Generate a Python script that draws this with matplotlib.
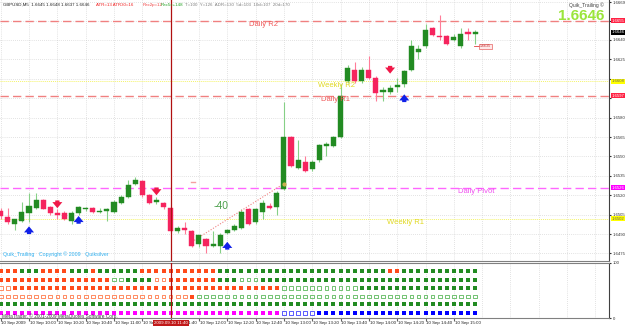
import numpy as np
import matplotlib.pyplot as plt
import matplotlib.transforms as mtransforms

plt.rcParams['font.family'] = ['Liberation Sans', 'DejaVu Sans']

# GBPUSD M5, 2009.09.10 09:40 - 15:15
opens = [1.6508, 1.6503, 1.6498, 1.6500, 1.6506, 1.6510, 1.6516, 1.6511, 1.6506, 1.6506,
         1.6500, 1.6506, 1.6509, 1.6510, 1.6507, 1.6508, 1.6507, 1.6514, 1.6519, 1.6529,
         1.6531, 1.6520, 1.6515, 1.6514, 1.6510, 1.6492, 1.6495, 1.6492, 1.6482, 1.6486,
         1.6481, 1.6481, 1.6491, 1.6493, 1.6495, 1.6509, 1.6499, 1.6507, 1.6512, 1.6511,
         1.6525, 1.6565, 1.6541, 1.6546, 1.6540, 1.6547, 1.6558, 1.6558, 1.6565, 1.6608,
         1.6617, 1.6608, 1.6617, 1.6611, 1.6600, 1.6600, 1.6604, 1.6606, 1.6617, 1.6631,
         1.6635, 1.6649, 1.6643, 1.6643, 1.6640, 1.6635, 1.6646, 1.6645]
highs = [1.6510, 1.6510, 1.6502, 1.6515, 1.6522, 1.6522, 1.6517, 1.6512, 1.6509, 1.6508,
         1.6508, 1.6512, 1.6511, 1.6511, 1.6510, 1.6510, 1.6516, 1.6520, 1.6532, 1.6534,
         1.6532, 1.6521, 1.6519, 1.6515, 1.6511, 1.6496, 1.6499, 1.6493, 1.6489, 1.6487,
         1.6492, 1.6491, 1.6494, 1.6498, 1.6509, 1.6510, 1.6510, 1.6516, 1.6514, 1.6523,
         1.6592, 1.6566, 1.6563, 1.6550, 1.6547, 1.6560, 1.6561, 1.6566, 1.6606, 1.6621,
         1.6623, 1.6619, 1.6628, 1.6612, 1.6604, 1.6605, 1.6611, 1.6617, 1.6640, 1.6636,
         1.6652, 1.6650, 1.6659, 1.6644, 1.6645, 1.6649, 1.6649, 1.6648]
lows = [1.6502, 1.6498, 1.6493, 1.6499, 1.6499, 1.6509, 1.6509, 1.6505, 1.6502, 1.6501,
        1.6498, 1.6505, 1.6508, 1.6506, 1.6506, 1.6500, 1.6506, 1.6513, 1.6518, 1.6528,
        1.6519, 1.6513, 1.6513, 1.6509, 1.6491, 1.6491, 1.6490, 1.6480, 1.6480, 1.6475,
        1.6480, 1.6475, 1.6490, 1.6492, 1.6494, 1.6497, 1.6498, 1.6502, 1.6509, 1.6505,
        1.6524, 1.6542, 1.6540, 1.6538, 1.6539, 1.6546, 1.6550, 1.6557, 1.6564, 1.6607,
        1.6607, 1.6607, 1.6610, 1.6593, 1.6593, 1.6598, 1.6600, 1.6604, 1.6616, 1.6625,
        1.6634, 1.6643, 1.6640, 1.6636, 1.6639, 1.6634, 1.6640, 1.6637]
closes = [1.6504, 1.6499, 1.6502, 1.6507, 1.6512, 1.6516, 1.6509, 1.6506, 1.6505, 1.6502,
          1.6506, 1.6511, 1.6510, 1.6507, 1.6508, 1.6509, 1.6515, 1.6519, 1.6528, 1.6532,
          1.6520, 1.6514, 1.6516, 1.6511, 1.6492, 1.6495, 1.6493, 1.6481, 1.6489, 1.6481,
          1.6482, 1.6489, 1.6493, 1.6496, 1.6507, 1.6498, 1.6509, 1.6514, 1.6510, 1.6522,
          1.6565, 1.6543, 1.6547, 1.6539, 1.6546, 1.6559, 1.6560, 1.6565, 1.6597, 1.6618,
          1.6608, 1.6617, 1.6611, 1.6599, 1.6601, 1.6603, 1.6605, 1.6616, 1.6635, 1.6633,
          1.6648, 1.6644, 1.6642, 1.6637, 1.6642, 1.6645, 1.6645, 1.6646]

# 信号箭头
sell_bars = [8, 22, 55]
sell_prices = [1.6513, 1.6523, 1.6617]
buy_bars = [4, 11, 32, 57]
buy_prices = [1.6493, 1.6501, 1.6481, 1.6595]

# 枢轴线
level_names = ['Daily R2', 'Weekly R2', 'Daily R1', 'Daily Pivot', 'Weekly R1']
level_prices = [1.6655, 1.6608, 1.6597, 1.6526, 1.6502]
level_colors = ['#f08080', '#f4f46a', '#f08080', '#ff66ff', '#f4f46a']
level_styles = ['dash', 'dot', 'dash', 'dash', 'dot']
level_label_bar = [35.0, 44.8, 45.2, 64.6, 54.6]
level_box_colors = ['#ff2244', '#ffff00', '#ff2244', '#ff00ff', '#ffff00']

price_ticks = [1.6475, 1.6490, 1.6505, 1.6520, 1.6535, 1.6550, 1.6565, 1.6580,
               1.6595, 1.6610, 1.6625, 1.6640, 1.6655, 1.6669]
hidden_ticks = [1.6595, 1.6610, 1.6655]   # 被彩色价格框盖住
bid = 1.6646

trend_bars = [27, 40]
trend_prices = [1.6484, 1.6529]

label_bars = list(range(0, 68, 4))
label_times = ['10 Sep 2009', '10 Sep 10:00', '10 Sep 10:20', '10 Sep 10:40', '10 Sep 11:00',
               '10 Sep 11:20', '10 Sep 11:40', '10 Sep 12:00', '10 Sep 12:20', '10 Sep 12:40',
               '10 Sep 13:00', '10 Sep 13:20', '10 Sep 13:40', '10 Sep 14:00', '10 Sep 14:20',
               '10 Sep 14:40', '10 Sep 15:00']
cursor_bar = 24
cursor_label = '2009.09.10 11:40'

# 下方面板: R=红实心 r=红空心 G=绿实心 g=绿空心 M=紫 b=蓝空心 B=蓝实心
rows = [
    'R' * 3 + 'G' * 3 + 'R' * 4 + 'G' * 3 + 'R' + 'G' * 6 + 'R' * 11 + 'G' * 24 + 'R' * 2 + 'G' * 11,
    'R' * 16 + 'g' * 2 + 'G' * 4 + 'r' * 2 + 'R' * 7 + 'G' * 3 + 'g' * 3 + 'G' * 31,
    'r' * 2 + 'R' * 38 + 'g' * 11 + 'G' * 17,
    'r' * 27 + 'R' + 'g' * 40,
    'G' * 68,
    'M' * 40 + 'b' * 5 + 'B' * 23,
]
row_levels = [86, 70, 54, 39, 25, 9]
code_colors = {'R': '#ff4a1a', 'r': '#ff7a4a', 'G': '#228b22', 'g': '#5cb85c',
               'M': '#ff00ff', 'b': '#4040ff', 'B': '#0000ff'}

W, H = 625, 327


def rect(x0, y0, x1, y1):
    return [x0 / W, 1 - y1 / H, (x1 - x0) / W, (y1 - y0) / H]


fig = plt.figure(figsize=(6.25, 3.27), dpi=100)
fig.patch.set_facecolor('white')
ax = fig.add_axes(rect(0, 0, 609, 261))
ax2 = fig.add_axes(rect(0, 263, 609, 318))

xmax = 609 / 7.08 - 0.1
for a in (ax, ax2):
    a.set_xlim(-0.1, xmax)
    for s in ('left', 'top'):
        a.spines[s].set_visible(False)
    a.spines['right'].set_color('#404040')
    a.spines['bottom'].set_color('#808080')
    a.spines['right'].set_linewidth(0.8)
    for g in np.arange(0, xmax, 4):
        a.axvline(g, color='#c8c8c8', lw=0.5, ls=(0, (1, 2)), zorder=0)

ax.set_ylim(1.64692, 1.66709)
ax2.set_ylim(0, 100)
ax2.spines['top'].set_visible(True)
ax2.spines['top'].set_color('#808080')

# 价格刻度
ax.yaxis.tick_right()
ax.set_yticks(price_ticks)
ax.set_yticklabels(['' if p in hidden_ticks else '%.4f' % p for p in price_ticks])
ax.tick_params(axis='y', labelsize=3.1, length=1.5, pad=1, colors='#303030')
ax.set_xticks([])
for p in price_ticks:
    ax.axhline(p, color='#c8c8c8', lw=0.5, ls=(0, (1, 2)), zorder=0)

ax2.yaxis.tick_right()
ax2.set_yticks([0, 100])
ax2.set_yticklabels(['0', '100'])
ax2.tick_params(axis='y', labelsize=3.1, length=1.5, pad=1, colors='#303030')
ax2.set_xticks(label_bars)
ax2.set_xticklabels([])
ax2.tick_params(axis='x', length=2, color='#606060')

# 蜡烛
for i in range(len(opens)):
    o, h, l, c = opens[i], highs[i], lows[i], closes[i]
    up = c >= o
    body = '#228b22' if up else '#f5245e'
    wick = '#86d086' if up else '#ff7c98'
    ax.vlines(i, l, h, color=wick, lw=0.8, zorder=2)
    ax.bar(i, max(abs(c - o), 0.000012), bottom=min(o, c), width=0.72,
           color=body, edgecolor=body, lw=0.3, zorder=3)

# 枢轴线
tr = mtransforms.blended_transform_factory(ax.transAxes, ax.transData)
for name, p, col, st, lb, bc in zip(level_names, level_prices, level_colors,
                                     level_styles, level_label_bar, level_box_colors):
    ls = (0, (6, 3)) if st == 'dash' else (0, (1, 1))
    lw = 1.0 if st == 'dash' else 0.7
    ax.axhline(p, color=col, lw=lw, ls=ls, zorder=1)
    tc = '#e0d820' if col == '#f4f46a' else ('#f05a5a' if col == '#f08080' else '#f050f0')
    ax.text(lb, p - 0.00003, name, fontsize=5.5, color=tc, va='top', ha='left', zorder=4)
    txtc = '#606060' if bc == '#ffff00' else 'white'
    ax.text(1.004, p, '%.4f' % p, transform=tr, fontsize=3.1, color=txtc, va='center',
            ha='left', clip_on=False, zorder=6,
            bbox=dict(boxstyle='square,pad=0.12', fc=bc, ec='none'))

ax.text(1.004, bid, '%.4f' % bid, transform=tr, fontsize=3.1, color='white', va='center',
        ha='left', clip_on=False, zorder=6,
        bbox=dict(boxstyle='square,pad=0.12', fc='black', ec='none'))

# 箭头
d = 0.00030
astyle = 'simple,head_width=0.9,head_length=0.55,tail_width=0.38'
for b, p in zip(sell_bars, sell_prices):
    ax.annotate('', xy=(b, p - d), xytext=(b, p + d),
                arrowprops=dict(arrowstyle=astyle, color='#f01848', lw=0, mutation_scale=8,
                                shrinkA=0, shrinkB=0), zorder=5)
for b, p in zip(buy_bars, buy_prices):
    ax.annotate('', xy=(b, p + d), xytext=(b, p - d),
                arrowprops=dict(arrowstyle=astyle, color='#1020e8', lw=0, mutation_scale=8,
                                shrinkA=0, shrinkB=0), zorder=5)

# 趋势线与 -40
ax.plot(trend_bars, trend_prices, ls=(0, (1, 1.5)), color='#f08080', lw=0.8, zorder=2)
ax.plot(trend_bars[1], trend_prices[1], 'o', ms=2, color='#c8b050', zorder=4)
ax.text(30, 1.6512, '-40', fontsize=7.5, color='#4ca04c', ha='left', va='center')
ax.plot([26.9, 27.4], [1.6530, 1.6530], color='#f4a0a0', lw=1)

# 最后价格小标签
ax.plot([66.8, 67.6], [1.6635, 1.6635], color='#e04040', lw=0.6)
ax.text(67.7, 1.6635, '1.6635', fontsize=2.6, color='#c03030', va='center', ha='left',
        bbox=dict(boxstyle='square,pad=0.2', fc='#ffe8e8', ec='#e04040', lw=0.4))

# 光标竖线
for a in (ax, ax2):
    a.axvline(cursor_bar, color='#b01010', lw=0.9, zorder=6)

# 下方面板方块
for lev, codes in zip(row_levels, rows):
    for i, ch in enumerate(codes):
        col = code_colors[ch]
        if ch.isupper():
            ax2.scatter(i, lev, s=9, marker='s', color=col, lw=0, zorder=3)
        else:
            ax2.scatter(i, lev, s=7, marker='s', facecolor='none', edgecolor=col,
                        lw=0.6, zorder=3)

# 时间轴
trx = mtransforms.blended_transform_factory(ax2.transData, ax2.transAxes)
for b, t in zip(label_bars, label_times):
    ax2.text(b + 0.1, -0.06, t, transform=trx, fontsize=3.2, color='#202020',
             va='top', ha='left', clip_on=False)
ax2.text(cursor_bar, -0.06, cursor_label, transform=trx, fontsize=3.2, color='white',
         va='top', ha='center', clip_on=False, zorder=10,
         bbox=dict(boxstyle='square,pad=0.25', fc='#c01818', ec='none'))

# 文字
def ftext(x, y, s, **kw):
    fig.text(x / W, 1 - y / H, s, **kw)


ftext(3, 5, 'GBPUSD,M5  1.6645 1.6648 1.6637 1.6646', fontsize=3.2, color='#202020', va='center')
ftext(96, 5, 'ATR=13 ATR30=16', fontsize=3.2, color='#f02020', va='center')
ftext(143, 5, 'Rec2p=12', fontsize=3.2, color='#f04040', va='center')
ftext(161, 5, 'Rec5=+148', fontsize=3.2, color='#20a020', va='center')
ftext(185, 5, 'T=100  Y=126  ADR=130  5d=103  10d=107  20d=170', fontsize=3.2,
      color='#808080', va='center')
ftext(604, 5, 'Quik_Trailing \u00a9', fontsize=3.6, color='#404040', va='center', ha='right')
ftext(604, 16, '1.6646', fontsize=11, fontweight='bold', color='#9be53b', va='center', ha='right')
ftext(3, 254, 'Quik_Trailing   Copyright \u00a9 2009   Quiksilver', fontsize=3.8,
      color='#30b0f0', va='center')
ftext(2, 316, 'MetaTrader, \u00a9 2001-2009 MetaQuotes Software Corp.', fontsize=3.4,
      color='#404040', va='center')

fig.savefig('out.png', dpi=100)
